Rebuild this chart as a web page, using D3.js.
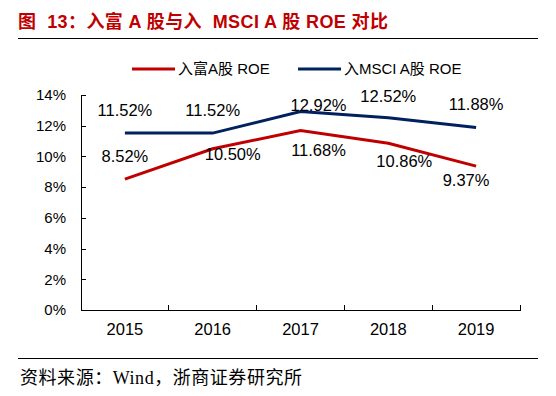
<!DOCTYPE html>
<html>
  <head>
    <meta charset="utf-8">
    <script src="https://d3js.org/d3.v7.min.js"></script>
    <style>
      body { margin: 0; background: #fff; }
      svg { display: block; font-family: "Liberation Sans", Arial, "Noto Sans CJK SC", sans-serif; }
      .axis path, .axis line { stroke: #000; shape-rendering: crispEdges; }
      .axis text { font-size: 15px; fill: #000; }
      .x.axis text { font-size: 16.5px; }
    </style>
  </head>
  <body>
    <script>
      // data
      var years = ["2015", "2016", "2017", "2018", "2019"];
      var fuRoe = [8.52, 10.50, 11.68, 10.86, 9.37];      // 入富A股 ROE
      var msciRoe = [11.52, 11.52, 12.92, 12.52, 11.88];  // 入MSCI A股 ROE
      var yTicks = [0, 2, 4, 6, 8, 10, 12, 14];

      // label nudges (layout only)
      var fuLabelOff = [[0, -23], [20, 5], [18, 20], [16, 18], [-10, 14]];
      var msciLabelOff = [[0, -23], [0, -23], [18, -6], [0, -22], [0, -23]];

      var W = 556, H = 396;
      var svg = d3.select("body").append("svg").attr("width", W).attr("height", H);

      // title
      svg.append("text")
        .attr("x", 18).attr("y", 28)
        .attr("font-size", 18).attr("font-weight", "bold")
        .attr("fill", "#C00000")
        .style("white-space", "pre")
        .attr("textLength", 370).attr("lengthAdjust", "spacing")
        .text("图  13：入富 A 股与入  MSCI A 股 ROE 对比");
      svg.append("line").attr("x1", 18).attr("x2", 538).attr("y1", 38.5).attr("y2", 38.5)
        .attr("stroke", "#000").attr("stroke-width", 1);

      var x = d3.scaleBand().domain(years).range([81, 520]);
      var y = d3.scaleLinear().domain([0, 14]).range([310, 95]);

      // axes
      svg.append("g").attr("class", "y axis")
        .attr("transform", "translate(81,0)")
        .call(d3.axisRight(y).tickValues(yTicks).tickFormat(function(d) { return d + "%"; }).tickSize(5).tickSizeOuter(5))
        .call(function(g) {
          g.selectAll("text").attr("x", -15).attr("text-anchor", "end");
        });

      var xg = svg.append("g").attr("class", "x axis")
        .attr("transform", "translate(0,310)")
        .call(d3.axisTop(x).tickSize(0).tickSizeOuter(0));
      xg.selectAll(".tick text").attr("y", 20).attr("dy", "0.32em");
      // tick marks at band boundaries
      xg.selectAll(".sep").data(years).enter().append("line")
        .attr("x1", function(d) { return x(d) + x.bandwidth(); })
        .attr("x2", function(d) { return x(d) + x.bandwidth(); })
        .attr("y1", 0).attr("y2", -5)
        .attr("stroke", "#000");

      var cx = function(i) { return x(years[i]) + x.bandwidth() / 2; };
      var line = d3.line().x(function(d, i) { return cx(i); }).y(function(d) { return y(d); });

      var series = [
        { name: "入富A股 ROE", values: fuRoe, color: "#C00000", off: fuLabelOff },
        { name: "入MSCI A股 ROE", values: msciRoe, color: "#002060", off: msciLabelOff }
      ];

      series.forEach(function(s) {
        svg.append("path").datum(s.values)
          .attr("d", line)
          .attr("fill", "none")
          .attr("stroke", s.color)
          .attr("stroke-width", 3);
      });

      series.forEach(function(s) {
        svg.selectAll(null).data(s.values).enter().append("text")
          .attr("x", function(d, i) { return cx(i) + s.off[i][0]; })
          .attr("y", function(d, i) { return y(d) + s.off[i][1]; })
          .attr("dy", "0.35em")
          .attr("text-anchor", "middle")
          .attr("font-size", 16.5)
          .attr("fill", "#000")
          .text(function(d) { return d.toFixed(2) + "%"; });
      });

      // legend
      var legX = [132, 298];
      series.forEach(function(s, i) {
        svg.append("line")
          .attr("x1", legX[i]).attr("x2", legX[i] + 43)
          .attr("y1", 69).attr("y2", 69)
          .attr("stroke", s.color).attr("stroke-width", 3);
        svg.append("text")
          .attr("x", legX[i] + 46).attr("y", 69).attr("dy", "0.35em")
          .attr("font-size", 15)
          .text(s.name);
      });

      // source
      svg.append("line").attr("x1", 18).attr("x2", 538).attr("y1", 358.5).attr("y2", 358.5)
        .attr("stroke", "#000").attr("stroke-width", 1);
      svg.append("text")
        .attr("x", 20).attr("y", 384)
        .attr("font-size", 18)
        .attr("font-family", "'Liberation Serif', 'Noto Sans CJK SC', serif")
        .attr("textLength", 282).attr("lengthAdjust", "spacing")
        .text("资料来源：Wind，浙商证券研究所");
    </script>
  </body>
</html>
